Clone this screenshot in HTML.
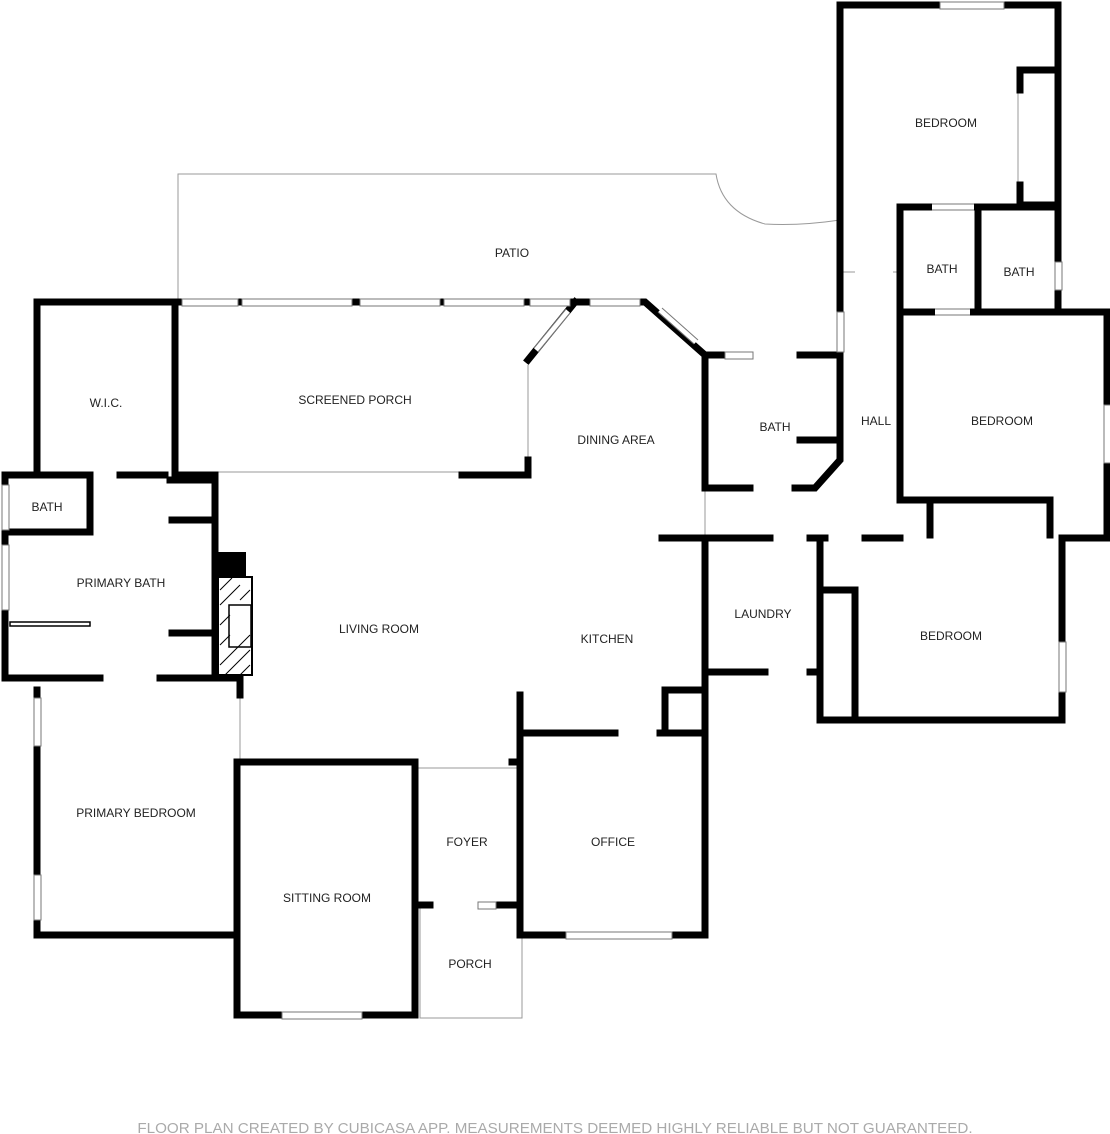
<!DOCTYPE html>
<html><head><meta charset="utf-8"><style>
html,body{margin:0;padding:0;background:#fff;}
svg{display:block;}
text{font-family:"Liberation Sans",sans-serif;font-size:12px;fill:#222;text-anchor:middle;}
</style></head><body>
<svg width="1110" height="1134" viewBox="0 0 1110 1134" xmlns="http://www.w3.org/2000/svg">
<g fill="none" stroke="#999" stroke-width="1">
<path d="M178 302 V174 H716 Q722 212 765 224 Q800 226 840 220"/>
<path d="M420 905 V1018 H522 V905"/>
<path d="M218 472 H462"/>
<path d="M528 365 V472"/>
<path d="M415 768 H520"/>
<path d="M240 680 V762"/>
<path d="M705 490 V538"/>
<path d="M853 600 V718"/>
<path d="M1018 90 V190"/>
<path d="M840 272 H900"/>
</g>
<g fill="none" stroke="#000" stroke-width="7" stroke-linecap="square">
<path d="M840 270 V5 H1058 V312"/>
<path d="M1020 70 H1055 M1020 70 V90 M1020 185 V205 H1055"/>
<path d="M900 207 H1058 M978 207 V312 M900 207 V312"/>
<path d="M840 270 V355 H800 M840 355 V460 L815 488 H795 M750 488 H705 V355 H740"/>
<path d="M800 440 H840"/>
<path d="M900 312 H1107 V538 H1062"/>
<path d="M900 312 V500 H1050 V535 M930 500 V535"/>
<path d="M662 538 H770 M810 538 H825 M865 538 H900"/>
<path d="M705 538 V935 H520"/>
<path d="M705 672 H765 M810 672 H820"/>
<path d="M820 538 V720 H1062 V538"/>
<path d="M820 590 H855 V718"/>
<path d="M178 302 H645 L705 355"/>
<path d="M575 302 L528 360"/>
<path d="M462 475 H528 V460"/>
<path d="M175 302 V475 H215 M37 475 V302 H175"/>
<path d="M5 475 H90 M120 475 H165 M5 475 V678 H100 M160 678 H240 V695"/>
<path d="M215 480 V678 M170 480 H215 V520 H172"/>
<path d="M172 633 H215"/>
<path d="M5 532 H90 V480"/>
<path d="M37 690 V935 H237"/>
<path d="M237 762 V1015 H280 M365 1015 H415 V762 H240"/>
<path d="M415 770 V855 M415 905 H430 M490 905 H520 V935"/>
<path d="M520 695 V762 H512 M520 733 H615 M660 733 H705"/>
<path d="M520 762 V905"/>
<path d="M665 690 H705 M665 690 V730"/>
</g>
<g fill="#fff" stroke="#777" stroke-width="1">
<rect x="182" y="299" width="56" height="7"/>
<rect x="242" y="299" width="110" height="7"/>
<rect x="360" y="299" width="80" height="7"/>
<rect x="444" y="299" width="80" height="7"/>
<rect x="530" y="299" width="40" height="7"/>
<rect x="590" y="299" width="50" height="7"/>
<rect x="940" y="2" width="64" height="7"/>
<rect x="1055" y="262" width="7" height="28"/>
<rect x="1104" y="405" width="7" height="58"/>
<rect x="1059" y="642" width="7" height="50"/>
<rect x="2" y="485" width="7" height="45"/>
<rect x="2" y="545" width="7" height="65"/>
<rect x="34" y="698" width="7" height="48"/>
<rect x="34" y="875" width="7" height="45"/>
<rect x="282" y="1012" width="80" height="7"/>
<rect x="566" y="932" width="106" height="7"/>
<rect x="725" y="352" width="28" height="7"/>
<rect x="837" y="312" width="7" height="40"/>
<rect x="478" y="902" width="18" height="7"/>
</g>
<g fill="#fff" stroke="none">
<rect x="932" y="203" width="42" height="9"/>
<rect x="935" y="308" width="35" height="9"/>
<rect x="855" y="266" width="38" height="8"/>
</g>
<!-- diagonal windows -->
<g fill="none" stroke-linecap="butt">
<path d="M568 311 L536 350 M660 310 L696 342" stroke="#fff" stroke-width="5"/>
</g>
<g stroke="#777" stroke-width="1" fill="none">
<path d="M932 204 H974 M932 210 H974 M935 309 H970 M935 315 H970"/>
<path d="M566 309 L534 348 M570 313 L538 352 M662 308 L698 340 M658 312 L694 344"/>
</g>
<rect x="216" y="552" width="30" height="24" fill="#000"/>
<rect x="218" y="577" width="34" height="98" fill="#fff" stroke="#000" stroke-width="2"/>
<rect x="229" y="605" width="22" height="42" fill="#fff" stroke="#000" stroke-width="1.5"/>
<g stroke="#000" stroke-width="1"><path d="M220 590 L232 578 M220 605 L240 585 M220 625 L230 615 M220 645 L230 635 M220 665 L250 635 M225 675 L250 650 M240 675 L250 665 M240 600 L250 590"/></g>
<rect x="10" y="622" width="80" height="4" fill="#fff" stroke="#000" stroke-width="1.5"/>
<g>
<text x="946" y="127">BEDROOM</text>
<text x="942" y="273">BATH</text>
<text x="1019" y="276">BATH</text>
<text x="512" y="257">PATIO</text>
<text x="1002" y="425">BEDROOM</text>
<text x="876" y="425">HALL</text>
<text x="775" y="431">BATH</text>
<text x="106" y="407">W.I.C.</text>
<text x="355" y="404">SCREENED PORCH</text>
<text x="616" y="444">DINING AREA</text>
<text x="47" y="511">BATH</text>
<text x="121" y="587">PRIMARY BATH</text>
<text x="379" y="633">LIVING ROOM</text>
<text x="607" y="643">KITCHEN</text>
<text x="763" y="618">LAUNDRY</text>
<text x="951" y="640">BEDROOM</text>
<text x="136" y="817">PRIMARY BEDROOM</text>
<text x="467" y="846">FOYER</text>
<text x="613" y="846">OFFICE</text>
<text x="327" y="902">SITTING ROOM</text>
<text x="470" y="968">PORCH</text>
<text x="555" y="1133" style="font-size:15.2px;fill:#aaa">FLOOR PLAN CREATED BY CUBICASA APP. MEASUREMENTS DEEMED HIGHLY RELIABLE BUT NOT GUARANTEED.</text>
</g>
</svg>
</body></html>
